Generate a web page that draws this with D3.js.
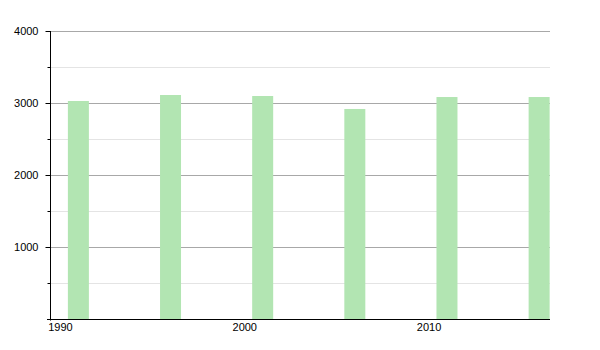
<!DOCTYPE html>
<html>
<head>
<meta charset="utf-8">
<script src="https://cdn.jsdelivr.net/npm/d3@7"></script>
<style>
  body { margin: 0; background: #fff; }
  text { font-family: "Liberation Sans", Arial, sans-serif; font-size: 11px; fill: #000; }
</style>
</head>
<body>
<div id="chart"></div>
<script>
// population by census year
const years = [1991, 1996, 2001, 2006, 2011, 2016]
const values = [3028, 3111, 3097, 2917, 3083, 3083]
const yTicks = [1000, 2000, 3000, 4000]
const yMinorTicks = [500, 1500, 2500, 3500]
const xTicks = [1990, 2000, 2010]

let w = 600
let h = 350
let plotLeft = 50
let plotRight = 550
let plotTop = 31
let plotBottom = 319
let barWidth = 21

const svg = d3.select('#chart')
    .append('svg')
    .attr('width', w)
    .attr('height', h)

const xScale = d3.scaleLinear()
    .domain([1989.46, 2016.59])
    .range([plotLeft, plotRight])

const yScale = d3.scaleLinear()
    .domain([0, 4000])
    .range([plotBottom, plotTop])

// minor grid
svg.append('g')
    .selectAll('line')
    .data(yMinorTicks)
    .enter()
    .append('line')
    .attr('x1', plotLeft)
    .attr('x2', plotRight)
    .attr('y1', d => Math.round(yScale(d)) + 0.5)
    .attr('y2', d => Math.round(yScale(d)) + 0.5)
    .attr('stroke', '#e4e4e4')

// major grid
svg.append('g')
    .selectAll('line')
    .data(yTicks)
    .enter()
    .append('line')
    .attr('x1', plotLeft)
    .attr('x2', plotRight)
    .attr('y1', d => Math.round(yScale(d)) + 0.5)
    .attr('y2', d => Math.round(yScale(d)) + 0.5)
    .attr('stroke', '#a8a8a8')

// bars
svg.selectAll('rect.bar')
    .data(years)
    .enter()
    .append('rect')
    .attr('class', 'bar')
    .attr('x', d => xScale(d) - barWidth / 2)
    .attr('y', (d, i) => yScale(values[i]))
    .attr('width', barWidth)
    .attr('height', (d, i) => yScale(0) - yScale(values[i]))
    .attr('fill', '#b2e5b2')

// y axis
const yAxis = d3.axisLeft(yScale)
    .tickValues(yTicks)
    .tickSize(5)
    .tickPadding(7)
    .tickFormat(d3.format('d'))

const gy = svg.append('g')
    .attr('transform', `translate(${plotLeft + 0.5}, 0)`)
    .call(yAxis)
gy.select('.domain').attr('d', `M0,${plotTop}V${plotBottom + 1.5}`).attr('stroke', '#000')
gy.selectAll('.tick line').attr('stroke', '#000')
gy.selectAll('text').style('font-family', '"Liberation Sans", Arial, sans-serif').style('font-size', '11px')

const gyMinor = svg.append('g')
    .attr('transform', `translate(${plotLeft + 0.5}, 0)`)
    .call(d3.axisLeft(yScale).tickValues(yMinorTicks).tickSize(3).tickFormat(''))
gyMinor.select('.domain').remove()
gyMinor.selectAll('.tick line').attr('stroke', '#000')

// x axis
const xAxis = d3.axisBottom(xScale)
    .tickValues(xTicks)
    .tickSize(0)
    .tickPadding(4)
    .tickFormat(d3.format('d'))

const gx = svg.append('g')
    .attr('transform', `translate(0, ${plotBottom + 0.5})`)
    .call(xAxis)
gx.select('.domain').attr('d', `M${plotLeft - 3},0H${plotRight}`).attr('stroke', '#000')
gx.selectAll('text').style('font-family', '"Liberation Sans", Arial, sans-serif').style('font-size', '11px')
</script>
</body>
</html>
